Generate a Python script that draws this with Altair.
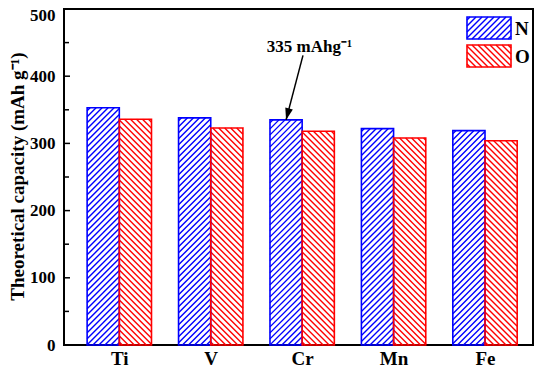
import json
import math
import altair as alt
import pandas as pd

# ---------------- data ----------------
metals = ["Ti", "V", "Cr", "Mn", "Fe"]
series_names = ["N", "O"]
n_values = [353, 338, 335, 322, 319]
o_values = [336, 323, 318, 308, 304]
y_label_values = [0, 100, 200, 300, 400, 500]
major_inner_ticks = [100, 200, 300, 400]
minor_inner_ticks = [50, 150, 250, 350, 450]
annot_unit = " mAhg⁻¹"
y_title = "Theoretical capacity (mAh g⁻¹)"

# ---------------- style ----------------
W, H = 469, 336
X_DOM = [0.395, 5.525]
Y_DOM = [0, 500]
BAR_W = 0.352
PX_X = W / (X_DOM[1] - X_DOM[0])
PX_Y = H / (Y_DOM[1] - Y_DOM[0])
FONT = "Liberation Serif"
BLUE = "#0000ff"
RED = "#ff0000"
PERIOD = 6.0
HATCH_W = 1.4
SLOPE = {"N": "/", "O": "\\"}

color_scale = alt.Scale(domain=series_names, range=[BLUE, RED])


def px_to_x(px):
    return X_DOM[0] + px / PX_X


def px_to_y(py):
    return Y_DOM[0] + (H - py) / PX_Y


def hatch_segments(w, h, slope, period=PERIOD):
    """45-degree hatch segments inside a w x h pixel box (p right, q down)."""
    segs = []
    if slope == "/":
        c = period / 2.0
        while c < w + h:
            p0, p1 = max(0.0, c - h), min(w, c)
            segs.append((p0, c - p0, p1, c - p1))
            c += period
    else:
        c = -h + period / 2.0
        while c < w:
            p0, p1 = max(0.0, c), min(w, c + h)
            segs.append((p0, p0 - c, p1, p1 - c))
            c += period
    return segs


# bar table
rows = []
for i, m in enumerate(metals):
    for s, vals in [("N", n_values), ("O", o_values)]:
        x0 = (i + 1 - BAR_W) if s == "N" else (i + 1)
        rows.append({"metal": m, "series": s, "value": vals[i], "base": 0,
                     "x0": x0, "x1": x0 + BAR_W})
bars_df = pd.DataFrame(rows)

# hatch table derived from bars
hrows = []
for r in rows:
    w_px, h_px = BAR_W * PX_X, r["value"] * PX_Y
    for p0, q0, p1, q1 in hatch_segments(w_px, h_px, SLOPE[r["series"]]):
        hrows.append({"series": r["series"],
                      "xa": r["x0"] + p0 / PX_X, "ya": r["value"] - q0 / PX_Y,
                      "xb": r["x0"] + p1 / PX_X, "yb": r["value"] - q1 / PX_Y})

# legend (hatched swatches drawn by hand), placed in pixels, converted to data units
LEG_X, LEG_Y, LEG_W, LEG_H, LEG_STEP = 403, 8, 44, 22, 28
leg_rows = []
for i, s in enumerate(series_names):
    top = LEG_Y + LEG_STEP * i
    leg_rows.append({"series": s, "x0": px_to_x(LEG_X), "x1": px_to_x(LEG_X + LEG_W),
                     "value": px_to_y(top), "base": px_to_y(top + LEG_H),
                     "tx": px_to_x(LEG_X + LEG_W + 4), "ty": px_to_y(top + 18)})
    for p0, q0, p1, q1 in hatch_segments(LEG_W, LEG_H, SLOPE[s]):
        hrows.append({"series": s,
                      "xa": px_to_x(LEG_X + p0), "ya": px_to_y(top + q0),
                      "xb": px_to_x(LEG_X + p1), "yb": px_to_y(top + q1)})
hatch_df = pd.DataFrame(hrows)
outline_df = pd.concat([bars_df, pd.DataFrame(leg_rows)], ignore_index=True)
leg_df = pd.DataFrame(leg_rows)

xs = alt.Scale(domain=X_DOM, nice=False, zero=False)
ys = alt.Scale(domain=Y_DOM, nice=False, zero=True)

x_axis = alt.Axis(
    values=list(range(1, len(metals) + 1)),
    labelExpr=json.dumps(metals) + "[datum.value - 1]",
    ticks=False, domain=False, grid=False, title=None,
    labelFlush=False, labelPadding=4, labelFontSize=19,
    labelFont=FONT, labelFontWeight="bold", labelColor="black",
)
y_axis = alt.Axis(
    values=y_label_values, ticks=False, domain=False, grid=False,
    labelPadding=9, labelFontSize=17, labelFont=FONT, labelFontWeight="bold",
    labelColor="black",
    labelOffset={"condition": {"test": "datum.value == 500", "value": 6}, "value": 0},
    title=y_title, titleFont=FONT, titleFontSize=19, titleFontWeight="bold",
    titleColor="black", titleX=-47, titleY=167, titleAngle=270,
    titleAlign="center", titleBaseline="middle",
)

layers = []

# hatching (bars + legend swatches)
layers.append(
    alt.Chart(hatch_df).mark_rule(strokeWidth=HATCH_W)
    .encode(x=alt.X("xa:Q", scale=xs, axis=x_axis), x2="xb:Q",
            y=alt.Y("ya:Q", scale=ys, axis=y_axis), y2="yb:Q",
            color=alt.Color("series:N", scale=color_scale, legend=None))
)
# bar + swatch outlines
layers.append(
    alt.Chart(outline_df).mark_bar(fillOpacity=0, strokeWidth=1.6, strokeJoin="miter")
    .encode(x=alt.X("x0:Q", scale=xs, axis=x_axis), x2="x1:Q",
            y=alt.Y("value:Q", scale=ys, axis=y_axis), y2="base:Q",
            stroke=alt.Stroke("series:N", scale=color_scale, legend=None))
)
# legend labels
layers.append(
    alt.Chart(leg_df).mark_text(font=FONT, fontSize=19, fontWeight="bold",
                                align="left", baseline="alphabetic", color="black")
    .encode(x=alt.X("tx:Q", scale=xs, axis=x_axis), y=alt.Y("ty:Q", scale=ys, axis=y_axis),
            text="series:N")
)

# inward ticks on the left
for vals, length in [(major_inner_ticks, 6), (minor_inner_ticks, 5)]:
    layers.append(
        alt.Chart(pd.DataFrame({"v": vals})).mark_rule(color="black", strokeWidth=1.5)
        .encode(y=alt.Y("v:Q", scale=ys, axis=y_axis), x=alt.value(0), x2=alt.value(length))
    )

# annotation arrow at the Cr / N bar
cr = metals.index("Cr")
tip_x = cr + 1 - BAR_W / 2
tip_y = n_values[cr]
tail_x = tip_x + 0.185
tail_y = 431
arrow_df = pd.DataFrame({"x": [tail_x], "y": [tail_y], "x2": [tip_x], "y2": [tip_y]})
layers.append(
    alt.Chart(arrow_df).mark_rule(color="black", strokeWidth=1.5)
    .encode(x=alt.X("x:Q", scale=xs, axis=x_axis), x2="x2:Q",
            y=alt.Y("y:Q", scale=ys, axis=y_axis), y2="y2:Q")
)
ang = math.degrees(math.atan2((tail_x - tip_x) * PX_X, (tail_y - tip_y) * PX_Y))
layers.append(
    alt.Chart(arrow_df).mark_point(shape="M0,0L-0.33,-1L0.33,-1Z", filled=True,
                                   color="black", opacity=1, size=560, angle=ang)
    .encode(x=alt.X("x2:Q", scale=xs, axis=x_axis), y=alt.Y("y2:Q", scale=ys, axis=y_axis))
)
text_df = pd.DataFrame({"x": [3.08], "y": [436], "t": [f"{n_values[cr]}{annot_unit}"]})
layers.append(
    alt.Chart(text_df).mark_text(font=FONT, fontSize=17, fontWeight="bold",
                                 align="center", baseline="alphabetic", color="black")
    .encode(x=alt.X("x:Q", scale=xs, axis=x_axis), y=alt.Y("y:Q", scale=ys, axis=y_axis),
            text="t:N")
)

chart = (
    alt.layer(*layers)
    .properties(width=W, height=H,
                autosize=alt.AutoSizeParams(type="none"),
                padding={"left": 56, "top": 1, "right": 1, "bottom": 24},
                background="white")
    .configure_view(stroke="black", strokeWidth=2)
)

chart.save("out.html", embed_options={"renderer": "svg", "actions": False})
